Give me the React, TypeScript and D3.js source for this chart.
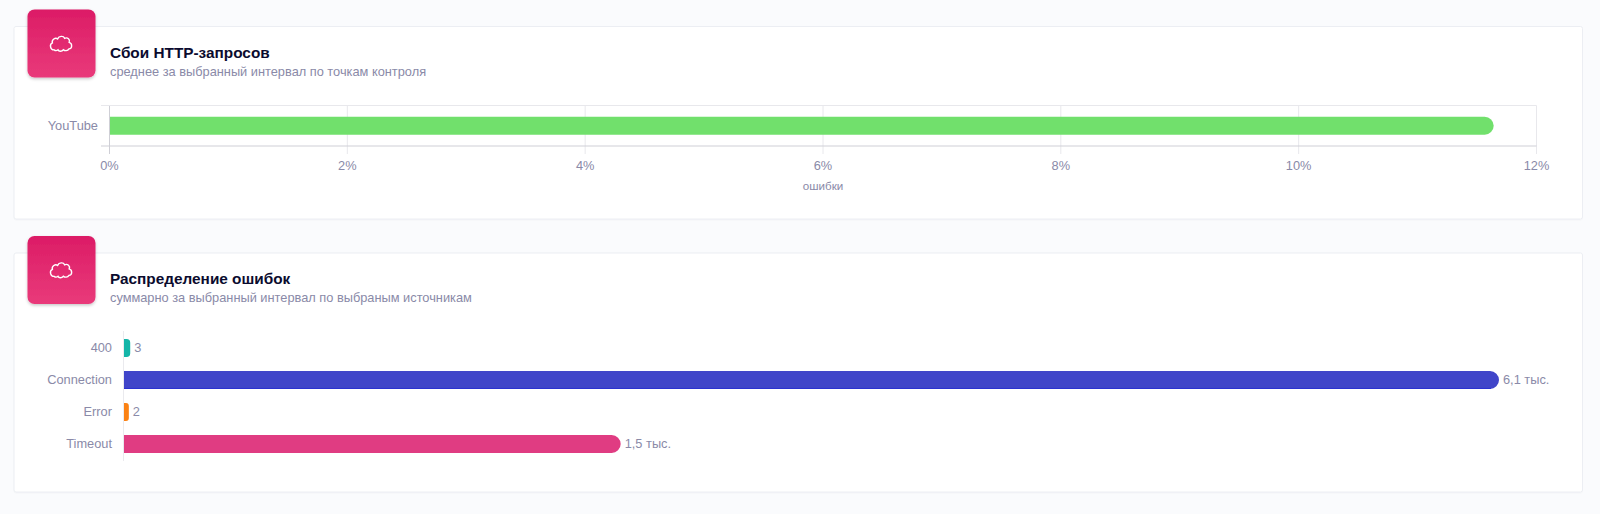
import React from "react";
import * as d3 from "d3";

const sourceCategories = ["YouTube"];
const failureValues = [11.64];
const percentTicks = [0, 2, 4, 6, 8, 10, 12];
const errorCategories = ["400", "Connection", "Error", "Timeout"];
const errorValues = [3, 6100, 2, 1500];
const errorLabels = ["3", "6,1 тыс.", "2", "1,5 тыс."];
const errorColors = ["#14b5a8", "#4045c9", "#fb8214", "#e03c82"];
const errorEdges = ["#14b5a8", "#2a32d0", "#fb8214", "#e03c82"];

const FONT = "'Liberation Sans', Arial, sans-serif";
const MUTED = "#8a8aa8";

const x1 = d3.scaleLinear().domain([0, 12]).range([109.5, 1536.5]);
const y1 = d3.scaleBand().domain(sourceCategories).range([105.5, 146]).paddingInner(0.5).paddingOuter(0.3125);
const x2 = d3.scalePow().exponent(0.7266).domain([0, 6100]).range([124.8, 1499]);
const y2 = d3.scaleBand().domain(errorCategories).range([332, 460]).paddingInner(0.44).paddingOuter(0.22);

const cloud = "M-6.8 6.4 C-10.6 6.6 -12 1 -8.6 -0.6 C-9.6 -4 -5.6 -6.4 -3.4 -4.6 C-2 -7.6 2.4 -8 3.6 -5.2 C6.6 -6.6 9.4 -3.8 8.2 -1.2 C11.6 0 11.4 5 8 5.4 C6.6 7.6 3.8 7.6 2.4 6.2 C0.8 8.2 -2.2 8.2 -3 6.4 C-4.2 7.2 -5.8 7.2 -6.8 6.4 Z";

function Card({ y, h, title, subtitle }: { y: number; h: number; title: string; subtitle: string }) {
  const iy = y - 17;
  return (
    <g>
      <rect x={14} y={y} width={1568.5} height={h} rx={2} fill="#fff" stroke="#eceef3" strokeWidth={1} filter="url(#cardShadow)" />
      <rect x={27.5} y={iy} width={68} height={68} rx={7} fill="url(#iconGrad)" filter="url(#iconShadow)" />
      <path d={cloud} transform={`translate(61 ${iy + 34})`} fill="none" stroke="#fff" strokeWidth={1.4} />
      <text x={110} y={y + 31} fontFamily={FONT} fontSize={15.35} fontWeight={700} fill="#0b0b2e">{title}</text>
      <text x={110} y={y + 49} fontFamily={FONT} fontSize={12.8} fill={MUTED}>{subtitle}</text>
    </g>
  );
}

function RoundBar({ x0, x, y, h, fill }: { x0: number; x: number; y: number; h: number; fill: string }) {
  const w = x - x0;
  const r = Math.min(w * 0.6, 9);
  const d = d3.path();
  d.moveTo(x0, y);
  d.arcTo(x, y, x, y + r, r);
  d.arcTo(x, y + h, x - r, y + h, r);
  d.lineTo(x0, y + h);
  d.closePath();
  return <path d={d.toString()} fill={fill} />;
}

export default function App() {
  return (
    <svg width={1600} height={514} style={{ position: "fixed", left: 0, top: 0, display: "block" }}>
      <defs>
        <linearGradient id="iconGrad" x1="0" y1="0" x2="0" y2="1">
          <stop offset="0" stopColor="#dc1c66" />
          <stop offset="1" stopColor="#e93a7a" />
        </linearGradient>
        <filter id="iconShadow" x="-20%" y="-20%" width="140%" height="140%">
          <feDropShadow dx={0} dy={1.5} stdDeviation={1.5} floodColor="#000" floodOpacity={0.22} />
        </filter>
        <filter id="cardShadow" x="-1%" y="-2%" width="102%" height="104%">
          <feDropShadow dx={0} dy={0.5} stdDeviation={0.7} floodColor="#000" floodOpacity={0.05} />
        </filter>
      </defs>
      <rect width={1600} height={514} fill="#fafbfd" />

      <Card y={26.5} h={192.5} title="Сбои HTTP-запросов" subtitle="среднее за выбранный интервал по точкам контроля" />
      <Card y={253} h={239} title="Распределение ошибок" subtitle="суммарно за выбранный интервал по выбраным источникам" />

      {percentTicks.map((t) => (
        <g key={t}>
          <line x1={x1(t)} x2={x1(t)} y1={105.5} y2={154} stroke={t === 0 ? "#cfcfd6" : "#e8e8ec"} />
          <text x={x1(t)} y={169.5} textAnchor="middle" fontFamily={FONT} fontSize={12.8} fill={MUTED}>{t}%</text>
        </g>
      ))}
      <line x1={101} x2={1536.5} y1={105.5} y2={105.5} stroke="#e8e8ec" />
      <line x1={101} x2={1536.5} y1={146} y2={146} stroke="#cfcfd6" />
      {sourceCategories.map((c, i) => (
        <g key={c}>
          <RoundBar x0={x1(0) + 0.5} x={x1(failureValues[i])} y={y1(c)!} h={y1.bandwidth()} fill="#71e06c" />
          <text x={98} y={y1(c)! + y1.bandwidth() / 2 + 4.5} textAnchor="end" fontFamily={FONT} fontSize={12.8} fill={MUTED}>{c}</text>
        </g>
      ))}
      <text x={823} y={190} textAnchor="middle" fontFamily={FONT} fontSize={11.6} fill={MUTED}>ошибки</text>

      <line x1={123.5} x2={123.5} y1={331} y2={461} stroke="#eaeaee" />
      {errorCategories.map((c, i) => {
        const y = y2(c)!;
        const h = y2.bandwidth();
        const end = x2(errorValues[i]);
        return (
          <g key={c}>
            <RoundBar x0={124} x={end} y={y} h={h} fill={errorColors[i]} />
            {errorEdges[i] !== errorColors[i] && <line x1={124} x2={end - 8} y1={y + h - 0.5} y2={y + h - 0.5} stroke={errorEdges[i]} />}
            <text x={112} y={y + h / 2 + 3.8} textAnchor="end" fontFamily={FONT} fontSize={12.8} fill={MUTED}>{c}</text>
            <text x={end + 4} y={y + h / 2 + 3.8} fontFamily={FONT} fontSize={12.8} fill={MUTED}>{errorLabels[i]}</text>
          </g>
        );
      })}
    </svg>
  );
}
